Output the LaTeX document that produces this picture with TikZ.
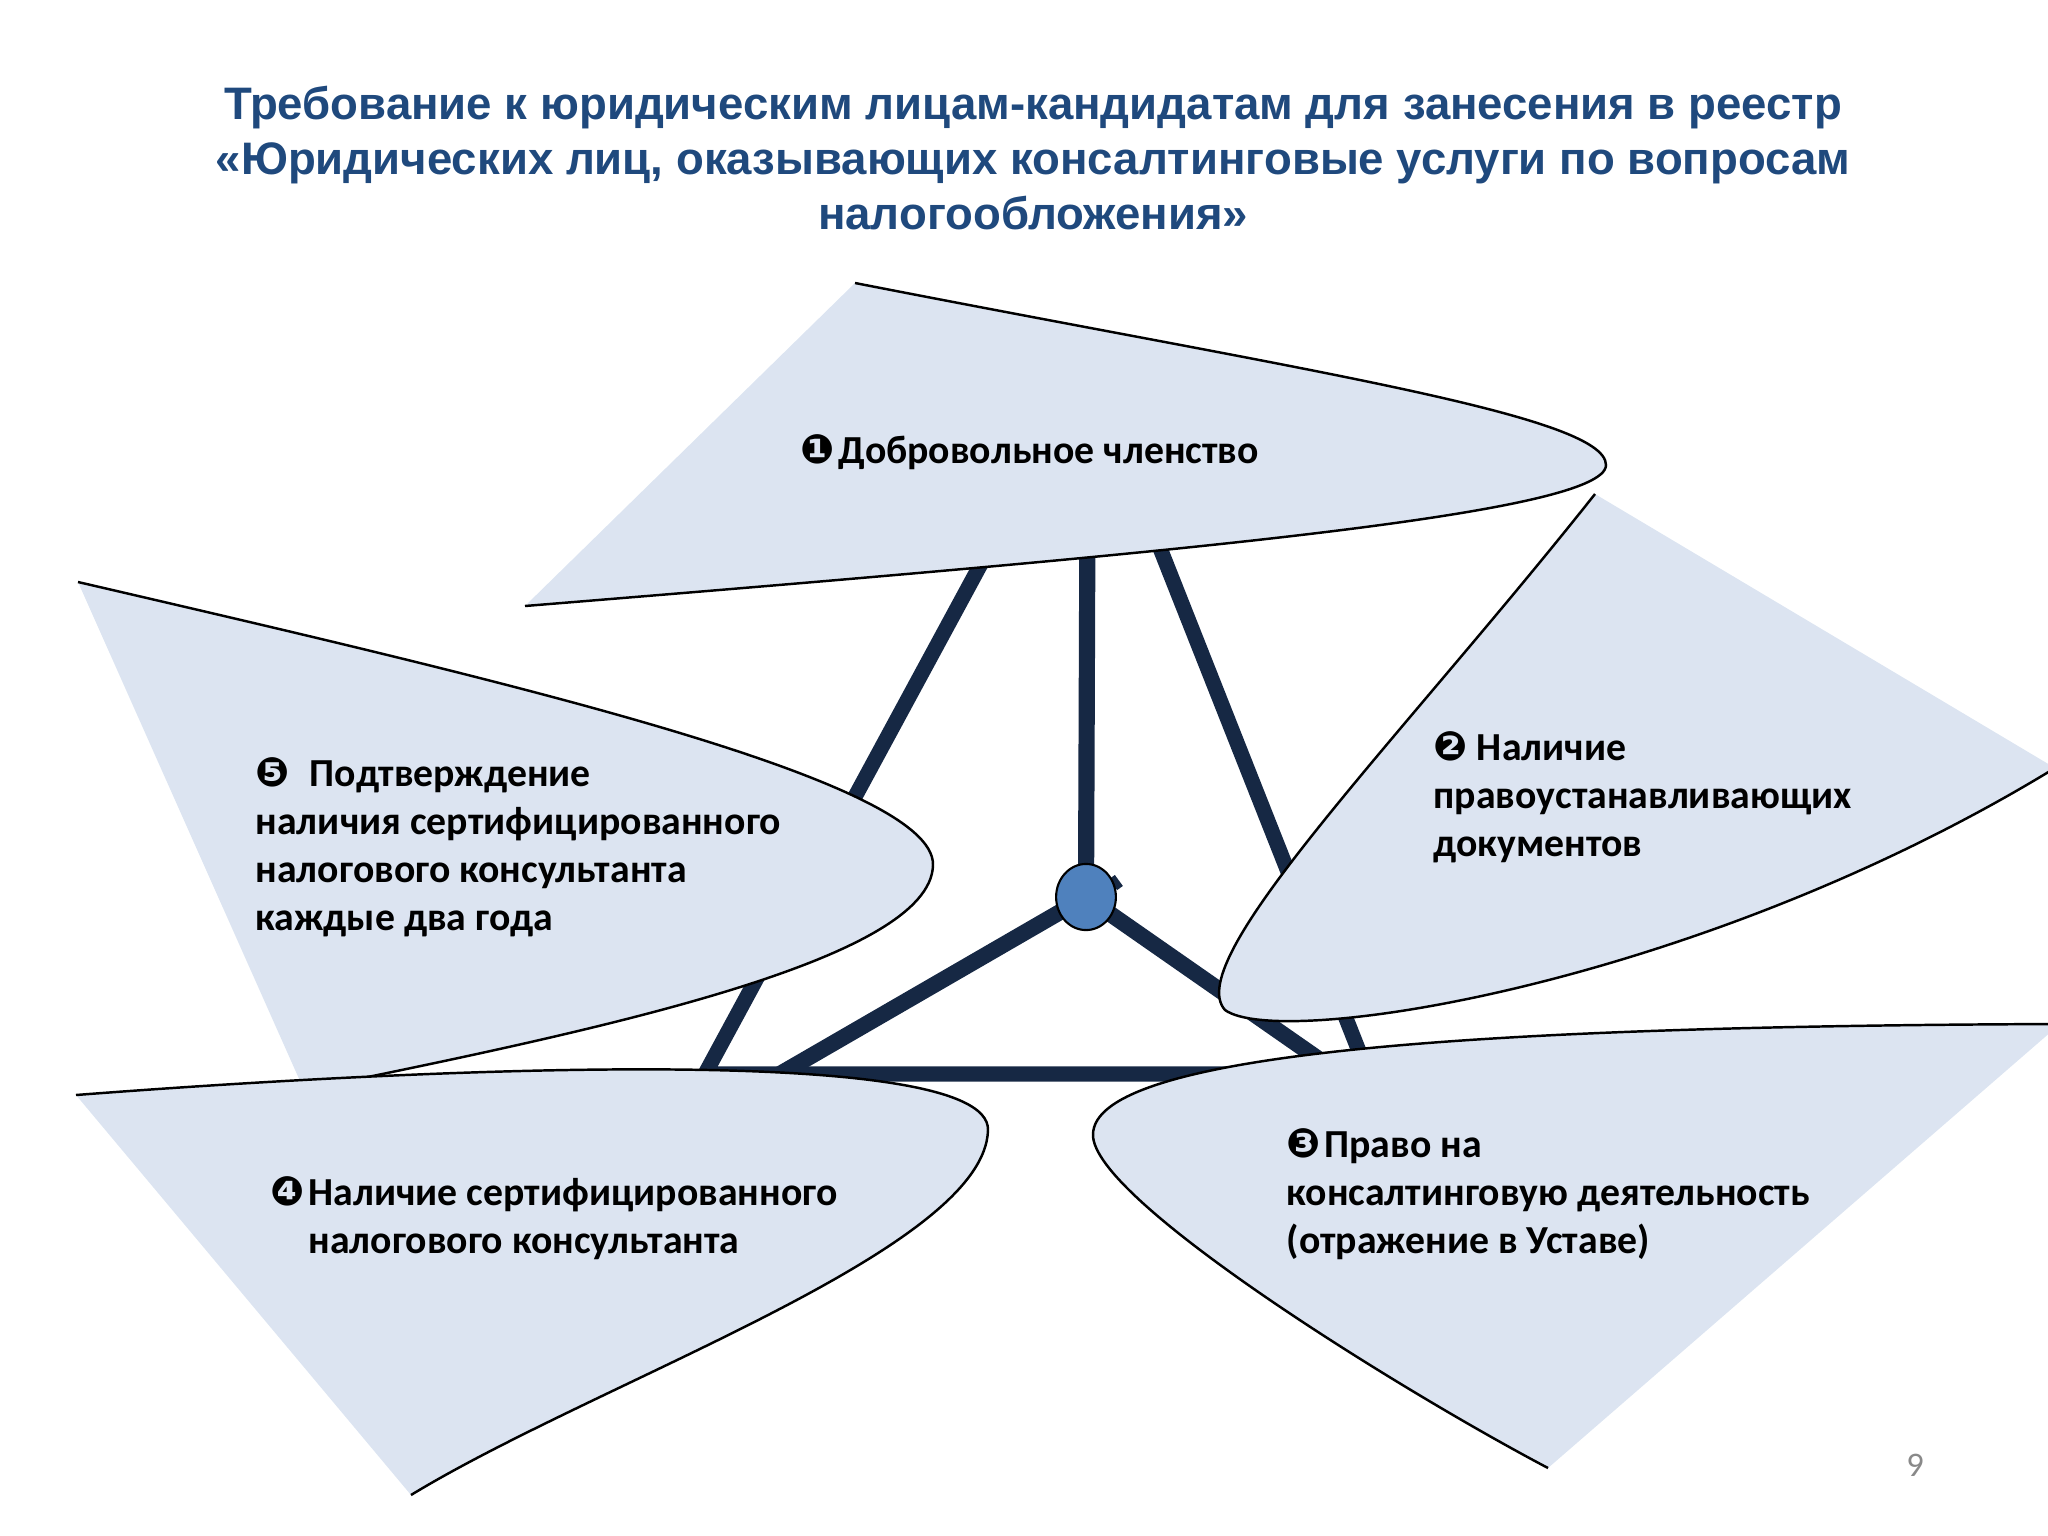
\documentclass[tikz,border=0pt]{standalone}
\usepackage{fontspec}
\setmainfont{Carlito}
\newfontfamily\titlefont{Liberation Sans}
\newfontfamily\dingfont{DejaVu Sans}
\usetikzlibrary{shapes.geometric}

\definecolor{titleblue}{RGB}{31,73,125}
\definecolor{barnavy}{RGB}{22,40,68}
\definecolor{petalfill}{RGB}{220,228,241}
\definecolor{hubblue}{RGB}{79,129,189}
\definecolor{pagegray}{RGB}{137,137,137}

\newcommand{\circnum}[1]{{\dingfont\fontsize{11.5}{11.5}\selectfont #1}}
\newcommand{\petalshape}[1]{\fill[petalfill] #1 -- cycle; \draw[rim] #1;}

\begin{document}
\begin{tikzpicture}[x=0.01cm,y=-0.01cm,
    bar/.style={draw=barnavy,line width=4.3pt},
    spoke/.style={draw=barnavy,line width=4.6pt},
    rim/.style={draw=black,line width=0.7pt},
    itemtext/.style={anchor=west,align=left,inner sep=0pt,
      font=\bfseries\fontsize{11.3}{13.65}\selectfont},
    hub/.style={ellipse,draw=black,line width=0.6pt,fill=hubblue,
      minimum width=17pt,minimum height=18.8pt,inner sep=0pt}]
  \useasboundingbox (0,0) rectangle (2048,1536);

  \node[font=\titlefont\bfseries\fontsize{12.95}{15.6}\selectfont,
        text=titleblue,align=center] (title) at (1033,158)
    {Требование к юридическим лицам-кандидатам для занесения в реестр\\
     «Юридических лиц, оказывающих консалтинговые услуги по вопросам\\
     налогообложения»};

  % frame of bars and the hub
  \coordinate (c) at (1086,897);
  \coordinate (apex) at (1088,366);
  \coordinate (bl) at (705,1074);
  \coordinate (br) at (1368,1074);
  \coordinate (sl) at (780,1074);
  \coordinate (sr) at (1340,1074);
  \draw[bar] (apex) -- (bl) -- (br) -- cycle;
  \draw[spoke] (c) -- (apex);
  \draw[spoke] (c) -- (sl);
  \draw[spoke] (c) -- (sr);
  \draw[barnavy,line width=2pt] (1112,877) -- (1120,888);

  % petals
  \petalshape{(855,283) .. controls (1300,370) and (1606,415) .. (1606,465)
    .. controls (1606,515) and (1150,555) .. (525,606)}
  \petalshape{(1595,494) .. controls (1400,740) and (1180,960) .. (1225,1010)
    .. controls (1280,1050) and (1700,985) .. (2055,768)}
  \petalshape{(2060,1024) .. controls (1500,1026) and (1092,1050) .. (1093,1135)
    .. controls (1093,1200) and (1400,1390) .. (1548,1468)}
  \petalshape{(78,582) .. controls (500,680) and (935,780) .. (933,865)
    .. controls (931,960) and (600,1030) .. (304,1090)}
  \petalshape{(76,1095) .. controls (400,1070) and (990,1040) .. (988,1130)
    .. controls (985,1250) and (600,1380) .. (411,1495)}

  \node[hub] (hub) at (c) {};

  \node[itemtext] (t1) at (800,452) {\circnum{❶}\kern1pt Добровольное членство};
  \node[itemtext] (t2) at (1433,797) {\circnum{❷} Наличие\\правоустанавливающих\\документов};
  \node[itemtext] (t3) at (1286,1194) {\circnum{❸}\kern1pt Право на\\консалтинговую деятельность\\(отражение в Уставе)};
  \node[itemtext] (t4) at (270,1218) {\circnum{❹}\kern1pt Наличие сертифицированного\\\phantom{\circnum{❹}\kern1pt}налогового консультанта};
  \node[itemtext] (t5) at (255,847) {\circnum{❺}\enspace Подтверждение\\наличия сертифицированного\\налогового консультанта\\каждые два года};

  \node[text=pagegray,font=\fontsize{9.8}{11}\selectfont] (pagenum) at (1915,1465) {9};
\end{tikzpicture}
\end{document}
